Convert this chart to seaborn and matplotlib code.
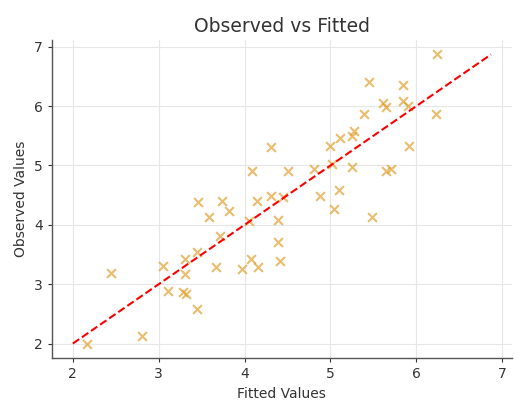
import numpy as np
import matplotlib
matplotlib.use("Agg")
import matplotlib.pyplot as plt
import seaborn as sns

# 데이터
fitted = [2.16, 2.45, 2.81, 3.05, 3.11, 3.28, 3.32, 3.31, 3.31, 3.45,
          3.45, 3.46, 3.59, 3.74, 3.82, 3.71, 3.67, 3.97, 4.08, 4.16,
          4.05, 4.09, 4.14, 4.31, 4.39, 4.45, 4.31, 4.51, 4.39, 4.41,
          4.81, 4.88, 5.00, 5.04, 5.10, 5.11, 5.25, 5.28, 5.39, 5.45,
          5.48, 5.25, 5.65, 5.71, 5.61, 5.65, 5.84, 5.85, 5.90, 5.91,
          6.23, 6.24, 5.02]
observed = [2.00, 3.18, 2.13, 3.31, 2.89, 2.87, 2.84, 3.17, 3.43, 3.54,
            2.58, 4.38, 4.13, 4.40, 4.23, 3.81, 3.29, 3.26, 3.43, 3.29,
            4.06, 4.90, 4.40, 4.48, 4.08, 4.47, 5.31, 4.90, 3.71, 3.39,
            4.94, 4.48, 5.32, 4.27, 4.59, 5.46, 5.49, 5.58, 5.86, 6.40,
            4.13, 4.97, 4.90, 4.94, 6.06, 5.98, 6.36, 6.08, 6.00, 5.32,
            5.86, 6.87, 5.02]

sns.set_style("whitegrid")
plt.rcParams['font.family'] = ['DejaVu Sans']

fig, ax = plt.subplots(figsize=(5.14, 4.0), dpi=100)
fig.subplots_adjust(left=0.101, right=0.996, top=0.9, bottom=0.105)

sns.scatterplot(x=fitted, y=observed, marker='x', color='#e0a030', alpha=0.7,
                s=40, linewidth=1.5, ax=ax)

# y = x 기준선 (관측값 최소~최대)
lo, hi = min(observed), max(observed)
sns.lineplot(x=[lo, hi], y=[lo, hi], color='red', linestyle='--',
             linewidth=1.5, ax=ax)

ax.set_title('Observed vs Fitted', fontsize=13.5, color='#333333')
ax.set_xlabel('Fitted Values', fontsize=10, color='#333333')
ax.set_ylabel('Observed Values', fontsize=10, color='#333333')
ax.set_xticks([2, 3, 4, 5, 6, 7])
ax.set_yticks([2, 3, 4, 5, 6, 7])
ax.tick_params(colors='#333333', labelsize=10, length=3, left=True, bottom=True)
ax.grid(color='#e6e6e6', linewidth=0.8)
for side in ['top', 'right']:
  ax.spines[side].set_visible(False)
for side in ['left', 'bottom']:
  ax.spines[side].set_color('#555555')
  ax.spines[side].set_linewidth(1.0)

plt.savefig('out.png', dpi=100)
